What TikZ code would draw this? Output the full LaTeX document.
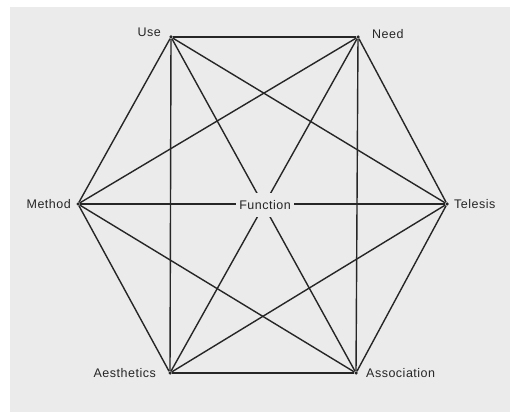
\documentclass[tikz,border=0pt]{standalone}
\usepackage{fontspec}
\setmainfont[LetterSpace=4]{Liberation Sans}
\definecolor{paper}{HTML}{EBEBEB}
\definecolor{ink}{HTML}{262626}
\begin{document}
\begin{tikzpicture}[x=1pt,y=1pt,
  edge/.style={draw=ink,line width=1.4pt},
  vtx/.style={circle,fill=ink,inner sep=0pt,minimum size=3.5pt},
  lbl/.style={font=\fontsize{12.5}{14}\selectfont,text=ink,inner sep=0pt},
  centre/.style={font=\fontsize{12.5}{14}\selectfont,text=ink,fill=paper,inner xsep=3pt,inner ysep=7pt}]
\useasboundingbox (0,0) rectangle (510,412);
\fill[white] (0,0) rectangle (510,412);
\fill[paper] (10,0) rectangle (510,405);
% vertices
\node[vtx] (use) at (171,375) {};
\node[vtx] (need) at (358,375) {};
\node[vtx] (method) at (78,208) {};
\node[vtx] (telesis) at (447,208) {};
\node[vtx] (aes) at (170,39) {};
\node[vtx] (assoc) at (356,39) {};
% edges (complete graph)
\foreach \a/\b in {use/need,use/method,use/telesis,use/aes,use/assoc,
  need/method,need/telesis,need/aes,need/assoc,
  method/telesis,method/aes,method/assoc,
  telesis/aes,telesis/assoc,aes/assoc}
  \draw[edge] (\a) -- (\b);
% centre label
\node[centre] (func) at (265,207) {Function};
% labels
\node[lbl,anchor=east] (luse) at (161,380) {Use};
\node[lbl,anchor=west] (lneed) at (372,378) {Need};
\node[lbl,anchor=east] (lmethod) at (71,208) {Method};
\node[lbl,anchor=west] (ltel) at (454,208) {Telesis};
\node[lbl,anchor=east] (laes) at (156,39) {Aesthetics};
\node[lbl,anchor=west] (lassoc) at (366,39) {Association};
\end{tikzpicture}
\end{document}
